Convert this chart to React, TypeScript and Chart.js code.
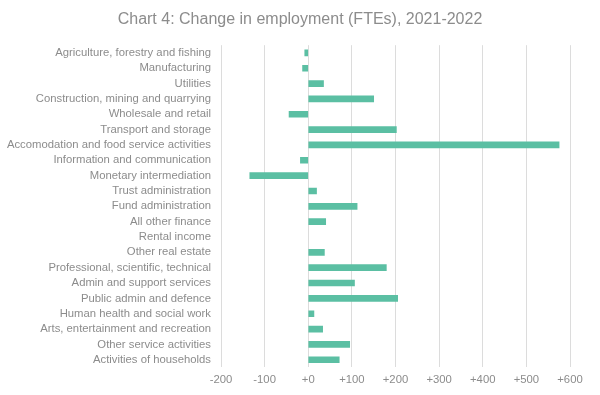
import React, { useEffect, useRef } from "react";
import { Chart, registerables } from "chart.js";

Chart.register(...registerables);

const categories = [
  "Agriculture, forestry and fishing",
  "Manufacturing",
  "Utilities",
  "Construction, mining and quarrying",
  "Wholesale and retail",
  "Transport and storage",
  "Accomodation and food service activities",
  "Information and communication",
  "Monetary intermediation",
  "Trust administration",
  "Fund administration",
  "All other finance",
  "Rental income",
  "Other real estate",
  "Professional, scientific, technical",
  "Admin and support services",
  "Public admin and defence",
  "Human health and social work",
  "Arts, entertainment and recreation",
  "Other service activities",
  "Activities of households",
];

const changeValues: (number | null)[] = [
  -8, -13, 35, 150, -44, 202, 575, -18, -134, 19, 112, 40, null, 37, 179, 106, 205, 13, 33, 95, 71,
];

const xMin = -200;
const xMax = 600;
const xStep = 100;

export default function App() {
  const ref = useRef<HTMLCanvasElement | null>(null);
  useEffect(() => {
    document.body.style.margin = "0";
    const ctx = ref.current!;
    const chart = new Chart(ctx, {
      type: "bar",
      data: {
        labels: categories,
        datasets: [
          {
            data: changeValues,
            backgroundColor: "#5bbfa3",
            barThickness: 6,
          },
        ],
      },
      options: {
        indexAxis: "y",
        animation: false,
        responsive: false,
        layout: { padding: { top: 4, right: 0, left: 0, bottom: 2 } },
        plugins: {
          legend: { display: false },
          tooltip: { enabled: false },
          title: {
            display: true,
            text: "Chart 4: Change in employment (FTEs), 2021-2022",
            color: "#8c8c8c",
            font: { family: "Liberation Sans, Arial", size: 16, weight: "normal" },
            padding: { top: 6, bottom: 16 },
          },
        },
        scales: {
          x: {
            min: xMin,
            max: xMax,
            ticks: {
              stepSize: xStep,
              color: "#8c8c8c",
              font: { family: "Liberation Sans, Arial", size: 11.3 },
              callback: (v: any) => (Number(v) >= 0 ? "+" + v : String(v)),
              padding: 6,
            },
            grid: { color: "#dcdcdc", drawTicks: false },
            border: { display: false },
          },
          y: {
            afterFit: (scale: any) => {
              scale.width = 221;
            },
            ticks: {
              color: "#8c8c8c",
              font: { family: "Liberation Sans, Arial", size: 11.3 },
              autoSkip: false,
              padding: 10,
            },
            grid: { display: false, drawTicks: false },
            border: { display: false },
          },
          yRight: {
            type: "linear",
            position: "right",
            afterFit: (scale: any) => {
              scale.width = 30;
            },
            ticks: { display: false },
            grid: { display: false, drawTicks: false },
            border: { display: false },
          },
        },
      },
    });
    return () => chart.destroy();
  }, []);
  return <canvas ref={ref} width={600} height={395} style={{ display: "block" }} />;
}
